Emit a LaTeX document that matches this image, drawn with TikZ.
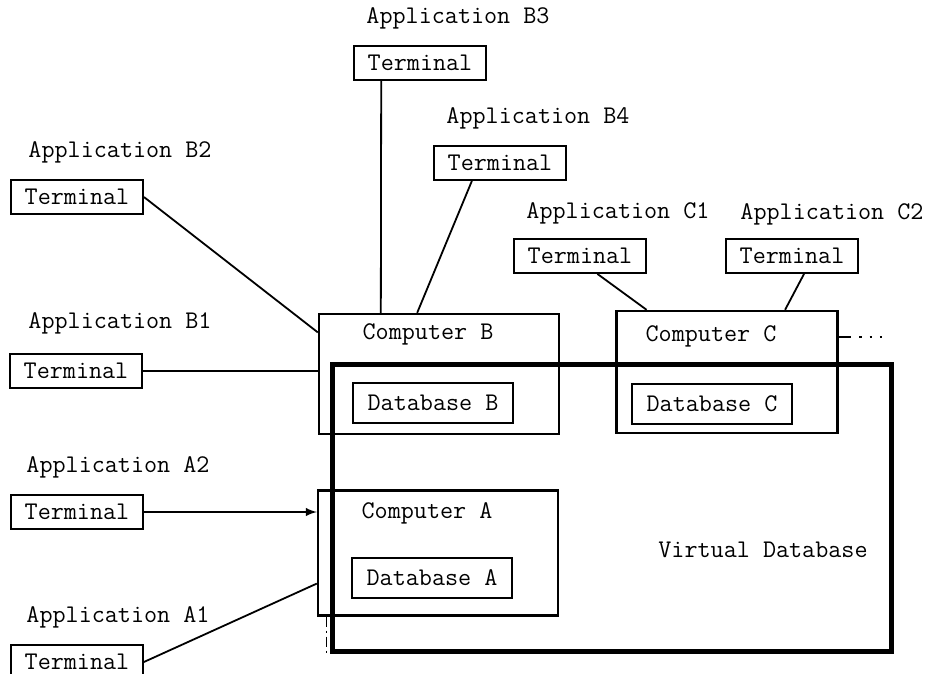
\documentclass[tikz,border=0pt]{standalone}
\usepackage{fontspec}
\usetikzlibrary{calc}

\begin{document}
\begin{tikzpicture}
			[x=0.5pt, y=-0.5pt,
			every node/.style={font=\ttfamily\fontsize{12.7}{14}\selectfont},
			term/.style={draw, line width=0.9pt, inner sep=0pt, minimum width=66pt, minimum height=17pt},
			comp/.style={draw, line width=1.2pt, inner sep=0pt},
			db/.style={draw, line width=0.9pt, inner sep=0pt, minimum width=80pt, minimum height=20pt},
			link/.style={line width=0.9pt}]
			
			\useasboundingbox (0,0) rectangle (932,674);
			
			\node[comp, minimum width=120pt, minimum height=60pt] (CB) at (439,374) {};
			\node[comp, minimum width=110.5pt, minimum height=61pt] (CC) at (727,372) {};
			\node[comp, minimum width=120pt, minimum height=62.5pt] (CA) at (438,553) {};
			\node (lCB) at (428,334) {Computer B};
			\node (lCC) at (711,336) {Computer C};
			\node (lCA) at (427,513) {Computer A};
			
			\node[db] (DB) at (433,403) {Database B};
			\node[db] (DC) at (712,404) {Database C};
			\node[db] (DA) at (432,578) {Database A};
			
			\node[draw, line width=2.2pt, inner sep=0pt, minimum width=279.5pt, minimum height=143.5pt] (VDB) at (612,508) {};
			\node (lVDB) at (763,550) {Virtual Database};
			
			\node[term] (TB3) at (420,63) {Terminal};
			\node[term] (TB4) at (500,163) {Terminal};
			\node[term] (TB2) at (77,197) {Terminal};
			\node[term] (TB1) at (76,371) {Terminal};
			\node[term] (TA2) at (77,512) {Terminal};
			\node[term] (TA1) at (77,662) {Terminal};
			\node[term] (TC1) at (580,256) {Terminal};
			\node[term] (TC2) at (792,256) {Terminal};
			
			\node (aB3) at (458,18) {Application B3};
			\node (aB4) at (538,118) {Application B4};
			\node (aB2) at (120,152) {Application B2};
			\node (aB1) at (120,323) {Application B1};
			\node (aA2) at (118,467) {Application A2};
			\node (aA1) at (118,617) {Application A1};
			\node (aC1) at (618,213) {Application C1};
			\node (aC2) at (832,214) {Application C2};
			
			\draw[link] ($(TB3.south west)!0.21!(TB3.south east)$) -- ($(CB.north west)!0.26!(CB.north east)$);
			\draw[link] ($(TB4.south west)!0.29!(TB4.south east)$) -- ($(CB.north west)!0.41!(CB.north east)$);
			\draw[link] (TB2.east) -- ($(CB.north west)!0.16!(CB.south west)$);
			\draw[link] (TB1.east) -- (TB1.east -| CB.west);
			\draw[link, ->, >=latex] (TA2.east) -- (TA2.east -| CA.west);
			\draw[link] (TA1.east) -- ($(CA.north west)!0.74!(CA.south west)$);
			\draw[link] ($(TC1.south west)!0.63!(TC1.south east)$) -- ($(CC.north west)!0.14!(CC.north east)$);
			\draw[link] ($(TC2.south west)!0.59!(TC2.south east)$) -- ($(CC.north west)!0.76!(CC.north east)$);
			
			\draw[link] ($(CB.north east)!0.21!(CB.south east)$) -- ($(CB.north east)!0.21!(CB.south east)$ -| CC.west);
			\draw[link] ($(CC.north east)!0.22!(CC.south east)$) -- ++(10,0) coordinate (more);
			\draw[link, dash pattern=on 1.2pt off 4pt] (more) -- ++(36,0);
			\draw[link, dash pattern=on 5pt off 2pt on 1pt off 2pt] ($(CA.south west)!0.04!(CA.south east)$) coordinate (gap) -- (gap |- VDB.south);
		\end{tikzpicture}
\end{document}
